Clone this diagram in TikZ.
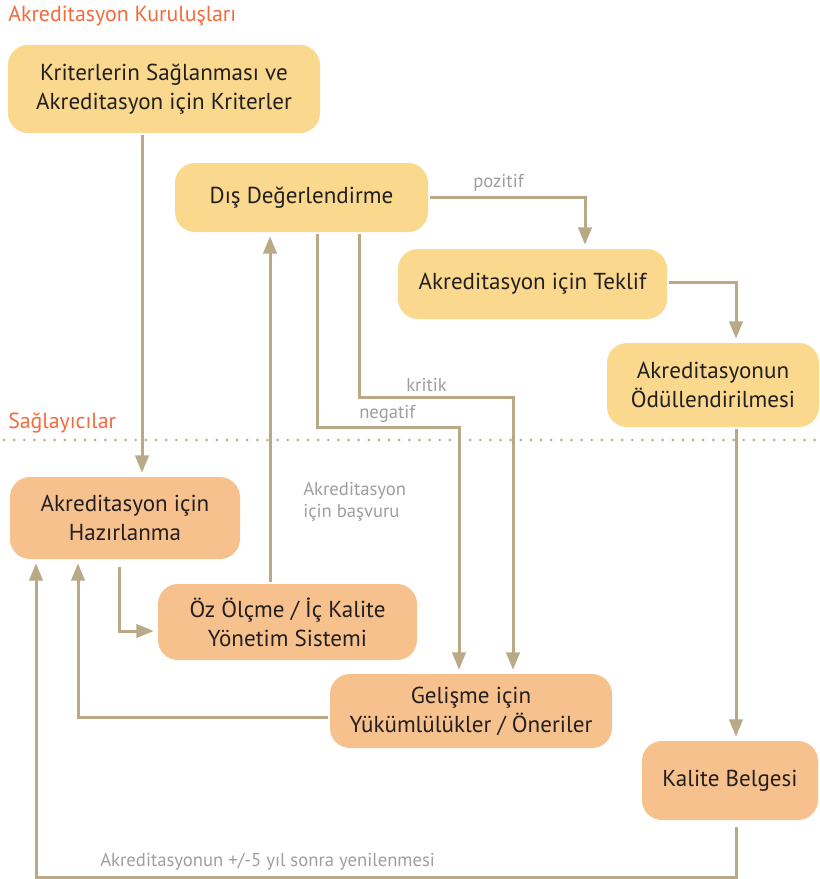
\documentclass[tikz,border=0pt]{standalone}
\usepackage{fontspec}
\setmainfont{PT Sans}
\usetikzlibrary{arrows.meta}
\definecolor{ylw}{HTML}{FAD98E}
\definecolor{org}{HTML}{F7C18D}
\definecolor{tan}{HTML}{B9A987}
\definecolor{ttl}{HTML}{F26B3D}
\definecolor{gry}{HTML}{9C9EA1}
\definecolor{txt}{HTML}{231F20}
\begin{document}
\begin{tikzpicture}[x=0.75pt,y=-0.75pt,
  box/.style={rounded corners=15pt, draw=none, align=center, text=txt, font=\fontsize{17.3pt}{21.75pt}\selectfont, inner sep=0pt},
  ybox/.style={box, fill=ylw},
  obox/.style={box, fill=org},
  arr/.style={draw=tan, line width=2.25pt, -{Triangle[width=10pt,length=13pt]}, shorten >=3pt, shorten <=1.5pt},
  lbl/.style={text=gry, font=\fontsize{14pt}{16.5pt}\selectfont, inner sep=0pt},
  ttlstyle/.style={text=ttl, font=\fontsize{16.4pt}{18pt}\selectfont, inner sep=0pt, anchor=west}]
\useasboundingbox (0,0) rectangle (819,879);

% section titles and separator
\node[ttlstyle] (t1) at (8,16) {Akreditasyon Kuruluşları};
\node[ttlstyle] (t2) at (8,423) {Sağlayıcılar};
\coordinate (sepL) at (4,440);
\coordinate (sepR) at (819,440);
\draw[tan, line width=2.2pt, line cap=round, dash pattern=on 0pt off 7.6pt] (sepL) -- (sepR);

% boxes
\node[ybox, minimum width=234pt, minimum height=66pt] (krit) at (164,89) {Kriterlerin Sağlanması ve\\Akreditasyon için Kriterler};
\node[ybox, minimum width=189.75pt, minimum height=51.75pt] (dis) at (301.5,197.5) {Dış Değerlendirme};
\node[ybox, minimum width=201.75pt, minimum height=52.5pt] (tek) at (532.5,284) {Akreditasyon için Teklif};
\node[ybox, minimum width=159pt, minimum height=63pt] (odul) at (713,385) {Akreditasyonun\\Ödüllendirilmesi};
\node[obox, minimum width=172.5pt, minimum height=61.5pt] (haz) at (125,518) {Akreditasyon için\\Hazırlanma};
\node[obox, minimum width=194.25pt, minimum height=57pt] (oz) at (287.5,622) {Öz Ölçme / İç Kalite\\Yönetim Sistemi};
\node[obox, minimum width=211.5pt, minimum height=55.5pt] (gel) at (471,711) {Gelişme için\\Yükümlülükler / Öneriler};
\node[obox, minimum width=132pt, minimum height=59.25pt] (kal) at (730,780.5) {Kalite Belgesi};

% helper coordinates
\coordinate (xa) at (142,0);
\coordinate (xb) at (270,0);
\coordinate (xc) at (585,0);
\coordinate (xd) at (736,0);
\coordinate (xf) at (317,0);
\coordinate (xf2) at (459,0);
\coordinate (xg) at (359,0);
\coordinate (xg2) at (513,0);
\coordinate (xh) at (119,0);
\coordinate (xi) at (78,0);
\coordinate (xj) at (36,0);
\coordinate (ypoz) at (0,197);
\coordinate (ytek) at (0,282);
\coordinate (yf) at (0,427);
\coordinate (yg) at (0,397);
\coordinate (yh) at (0,631);
\coordinate (yi) at (0,717);
\coordinate (yj) at (0,877);

% connectors
\draw[arr] (krit.south -| xa) -- (haz.north -| xa);
\draw[arr] (oz.north -| xb) -- (dis.south -| xb);
\draw[arr] (dis.east |- ypoz) -- (xc |- ypoz) -- (tek.north -| xc);
\draw[arr] (tek.east |- ytek) -- (xd |- ytek) -- (odul.north -| xd);
\draw[arr] (odul.south -| xd) -- (kal.north -| xd);
\draw[arr] (dis.south -| xf) -- (xf |- yf) -- (xf2 |- yf) -- (gel.north -| xf2);
\draw[arr] (dis.south -| xg) -- (xg |- yg) -- (xg2 |- yg) -- (gel.north -| xg2);
\draw[arr, shorten <=6pt] (haz.south -| xh) -- (xh |- yh) -- (oz.west |- yh);
\draw[arr] (gel.west |- yi) -- (xi |- yi) -- (haz.south -| xi);
\draw[arr, shorten <=5pt] (kal.south -| xd) -- (xd |- yj) -- (xj |- yj) -- (haz.south -| xj);

% labels
\node[lbl, anchor=west] (lpoz) at (473,183) {pozitif};
\node[lbl, anchor=west] (lkrit) at (406,385) {kritik};
\node[lbl, anchor=west] (lneg) at (359,414) {negatif};
\node[lbl, anchor=north west, align=left] (lbas) at (303,482) {Akreditasyon\\için başvuru};
\node[lbl, anchor=west] (lyen) at (100,862) {Akreditasyonun +/-5 yıl sonra yenilenmesi};
\end{tikzpicture}
\end{document}
